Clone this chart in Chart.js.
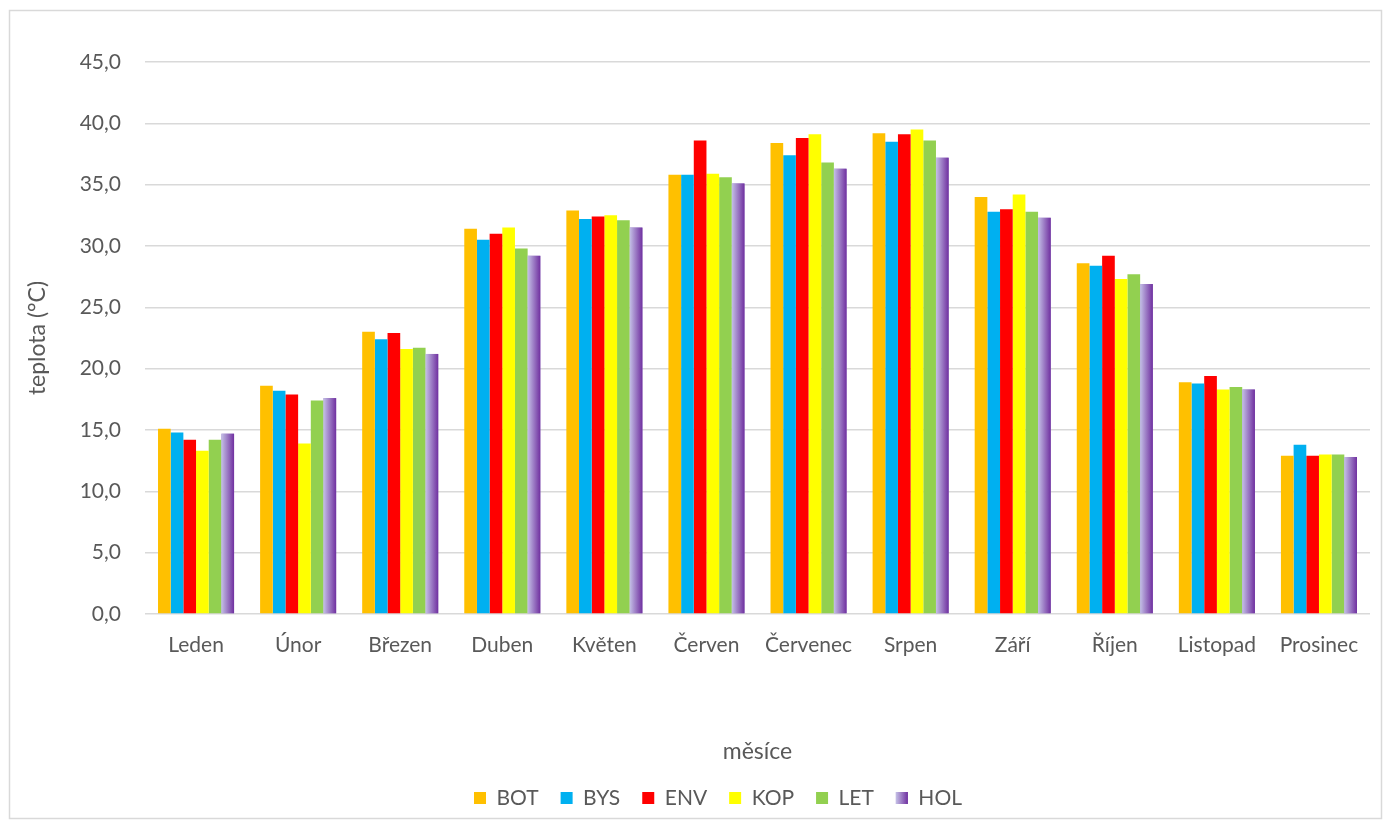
<!DOCTYPE html>
<html>
<head>
<meta charset="utf-8">
<script src="https://cdn.jsdelivr.net/npm/chart.js@4/dist/chart.umd.min.js"></script>
<style>
  html, body { margin: 0; padding: 0; background: #fff; }
  #wrap { position: absolute; left: 0; top: 0; width: 1383px; height: 823px; }
</style>
</head>
<body>
<div id="wrap"><canvas id="c" width="1383" height="823"></canvas></div>
<script>
const months = ['Leden','Únor','Březen','Duben','Květen','Červen','Červenec','Srpen','Září','Říjen','Listopad','Prosinec'];
const seriesNames = ['BOT','BYS','ENV','KOP','LET','HOL'];
const BOT = [15.1, 18.6, 23.0, 31.4, 32.9, 35.8, 38.4, 39.2, 34.0, 28.6, 18.9, 12.9];
const BYS = [14.8, 18.2, 22.4, 30.5, 32.2, 35.8, 37.4, 38.5, 32.8, 28.4, 18.8, 13.8];
const ENV = [14.2, 17.9, 22.9, 31.0, 32.4, 38.6, 38.8, 39.1, 33.0, 29.2, 19.4, 12.9];
const KOP = [13.3, 13.9, 21.6, 31.5, 32.5, 35.9, 39.1, 39.5, 34.2, 27.3, 18.3, 13.0];
const LET = [14.2, 17.4, 21.7, 29.8, 32.1, 35.6, 36.8, 38.6, 32.8, 27.7, 18.5, 13.0];
const HOL = [14.7, 17.6, 21.2, 29.2, 31.5, 35.1, 36.3, 37.2, 32.3, 26.9, 18.3, 12.8];
const yTicks = [0, 5, 10, 15, 20, 25, 30, 35, 40, 45];

const colors = ['#ffc000', '#00b0f0', '#ff0000', '#ffff00', '#92d050', '#9a7fc8'];
const seriesData = [BOT, BYS, ENV, KOP, LET, HOL];
const FONT = "Lato, 'Open Sans', sans-serif";
const TXT = '#595959';

const gradientPlugin = {
  id: 'holGradient',
  afterDatasetsDraw(chart) {
    const ctx = chart.ctx;
    const meta = chart.getDatasetMeta(5);
    ctx.save();
    meta.data.forEach(bar => {
      const p = bar.getProps(['x', 'y', 'base', 'width'], true);
      const l = p.x - p.width / 2;
      const g = ctx.createLinearGradient(l, 0, l + p.width, 0);
      g.addColorStop(0, '#c4c0e6');
      g.addColorStop(1, '#7030a0');
      ctx.fillStyle = g;
      ctx.fillRect(l, p.y, p.width, p.base - p.y);
    });
    ctx.restore();
  },
  afterDraw(chart) {
    const ctx = chart.ctx;
    ctx.save();
    const hb = chart.legend && chart.legend.legendHitBoxes ? chart.legend.legendHitBoxes[5] : null;
    if (hb) {
      const bx = hb.left, by = hb.top + (21 - 12) / 2;
      const g = ctx.createLinearGradient(bx, 0, bx + 12, 0);
      g.addColorStop(0, '#c4c0e6');
      g.addColorStop(1, '#7030a0');
      ctx.fillStyle = g;
      ctx.fillRect(bx, by, 12, 12);
    }
    ctx.strokeStyle = '#d9d9d9';
    ctx.lineWidth = 1.5;
    ctx.strokeRect(9.5, 10.5, 1372, 808);
    ctx.restore();
  }
};

new Chart(document.getElementById('c'), {
  type: 'bar',
  data: {
    labels: months,
    datasets: seriesNames.map((n, i) => ({
      label: n,
      data: seriesData[i],
      backgroundColor: colors[i],
      borderWidth: 0,
      categoryPercentage: 0.745,
      barPercentage: 1.0
    }))
  },
  options: {
    responsive: false,
    animation: false,
    layout: { padding: { top: 62, right: 13, bottom: 4.5, left: 66 } },
    plugins: {
      tooltip: { enabled: false },
      legend: {
        position: 'bottom',
        labels: {
          boxWidth: 12, boxHeight: 12, padding: 22,
          color: TXT,
          font: { family: FONT, size: 21 }
        }
      }
    },
    scales: {
      x: {
        grid: { display: false },
        border: { display: false },
        ticks: { color: TXT, font: { family: FONT, size: 21 }, padding: 11, maxRotation: 0, autoSkip: false },
        title: { display: true, text: 'měsíce', color: TXT, font: { family: FONT, size: 23 }, padding: { top: 0, bottom: 0 } },
        afterFit(s) { s.height = 151.5; }
      },
      y: {
        min: 0, max: 45,
        afterBuildTicks(s) { s.ticks = yTicks.map(v => ({ value: v })); },
        grid: { color: '#d9d9d9', lineWidth: 1.5, drawTicks: false },
        border: { display: false },
        ticks: {
          color: TXT, font: { family: FONT, size: 21 }, padding: 24,
          callback: v => v.toFixed(1).replace('.', ',')
        },
        title: { display: true, text: 'teplota (°C)', color: TXT, font: { family: FONT, size: 23 }, padding: { top: -42, bottom: 0 } },
        afterFit(s) { s.width = 79; }
      }
    }
  },
  plugins: [gradientPlugin]
});
</script>
</body>
</html>
